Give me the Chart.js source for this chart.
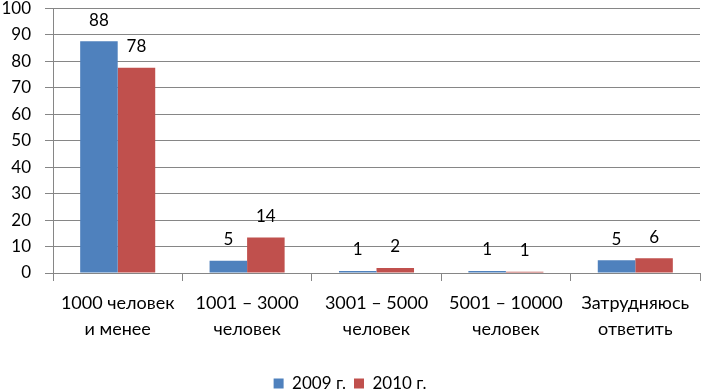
<!DOCTYPE html>
<html>
<head>
<meta charset="utf-8">
<script src="https://cdn.jsdelivr.net/npm/chart.js@4"></script>
<style>
  html, body { margin: 0; padding: 0; background: #fff; overflow: hidden; }
  #wrap { width: 701px; height: 400px; margin-top: -9px; }
</style>
</head>
<body>
<div id="wrap"><canvas id="chart"></canvas></div>
<script>
// данные
const categories = [
    ['1000 человек', 'и менее'],
    ['1001 – 3000', 'человек'],
    ['3001 – 5000', 'человек'],
    ['5001 – 10000', 'человек'],
    ['Затрудняюсь', 'ответить']
];
const series2009 = [87.6, 4.6, 0.8, 0.8, 4.8];
const series2010 = [77.6, 13.4, 1.9, 0.5, 5.6];
const labels2009 = ['88', '5', '1', '1', '5'];
const labels2010 = ['78', '14', '2', '1', '6'];
const yTicks = [0, 10, 20, 30, 40, 50, 60, 70, 80, 90, 100];

const fontFamily = 'Lato, "Open Sans", sans-serif';
const gridColor = '#868686';

// подписи над столбцами
const valueLabels = {
    id: 'valueLabels',
    afterDatasetsDraw(chart) {
        const ctx = chart.ctx;
        const texts = [labels2009, labels2010];
        ctx.save();
        ctx.font = '17px ' + fontFamily;
        ctx.fillStyle = '#000';
        ctx.textAlign = 'center';
        ctx.textBaseline = 'middle';
        chart.data.datasets.forEach((ds, i) => {
            chart.getDatasetMeta(i).data.forEach((bar, j) => {
                ctx.fillText(texts[i][j], bar.x, bar.y - 21);
            });
        });
        ctx.restore();
    }
};

const ctx = document.getElementById('chart').getContext('2d');
new Chart(ctx, {
    type: 'bar',
    data: {
        labels: categories,
        datasets: [{
            label: '2009 г.',
            data: series2009,
            backgroundColor: '#4F81BD',
            categoryPercentage: 0.58,
            barPercentage: 1
        }, {
            label: '2010 г.',
            data: series2010,
            backgroundColor: '#C0504D',
            categoryPercentage: 0.58,
            barPercentage: 1
        }]
    },
    options: {
        responsive: true,
        maintainAspectRatio: false,
        animation: false,
        layout: { padding: { top: 5, right: 1, left: 0, bottom: -11 } },
        plugins: {
            tooltip: { enabled: false },
            legend: {
                position: 'bottom',
                labels: {
                    boxWidth: 10,
                    boxHeight: 10,
                    padding: 8,
                    color: '#000',
                    font: { family: fontFamily, size: 17 }
                }
            }
        },
        scales: {
            x: {
                grid: {
                    offset: true,
                    drawOnChartArea: false,
                    color: gridColor,
                    tickLength: 8
                },
                border: { color: gridColor },
                ticks: {
                    color: '#000',
                    padding: 10,
                    maxRotation: 0,
                    font: { family: fontFamily, size: 18, lineHeight: 1.4 }
                },
                afterFit(scale) { scale.height = 94; }
            },
            y: {
                min: 0,
                max: 100,
                afterBuildTicks(scale) { scale.ticks = yTicks.map(v => ({ value: v })); },
                grid: { color: gridColor, tickLength: 8 },
                border: { color: gridColor },
                ticks: {
                    color: '#000',
                    padding: 14,
                    font: { family: fontFamily, size: 17, lineHeight: 0.4 }
                },
                afterFit(scale) { scale.width = 53; }
            }
        }
    },
    plugins: [valueLabels]
});
</script>
</body>
</html>
